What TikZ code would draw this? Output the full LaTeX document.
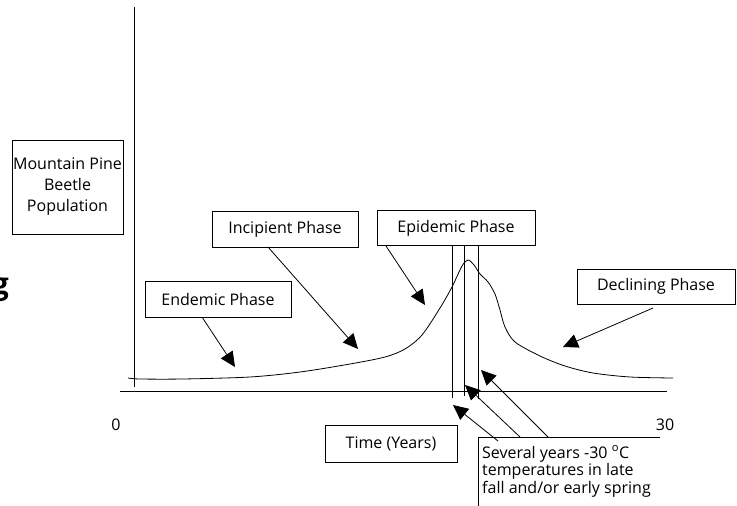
\documentclass[tikz,border=0pt]{standalone}
\usepackage{fontspec}
\setmainfont{Open Sans}
\usetikzlibrary{arrows.meta}
\begin{document}
\begin{tikzpicture}[x=1pt,y=-1pt,
  ln/.style={line width=0.8pt},
  box/.style={draw, line width=0.8pt, inner sep=0pt, font=\fontsize{16}{21}\selectfont},
  lbl/.style={inner sep=0pt, font=\fontsize{16}{18}\selectfont},
  arr/.style={line width=0.8pt, -{Triangle[length=15pt,width=14pt]}}]
\useasboundingbox (0,0) rectangle (737,506);

% axes
\coordinate (ytop) at (134,7);
\coordinate (ybot) at (134,387);
\coordinate (xl) at (120,391);
\coordinate (xr) at (667,391);
\draw[ln] (ytop) -- (ybot);
\draw[ln] (xl) -- (xr);

% curve
\draw[ln] plot[smooth, tension=0.5] coordinates {(128,378) (140,379) (183,379) (250,377) (300,372) (350,364) (385,357) (405,349) (422,335) (440,308) (452,287) (462,266) (468,260) (474,265) (480,274) (488,282) (495,294) (500,310) (505,327) (515,342) (540,356) (565,366) (593,373) (630,377) (673,378)};

% boxes
\node[box, align=center, minimum width=111pt, minimum height=94pt] (mpb) at (67.5,187) {Mountain Pine\\Beetle\\Population};
\node[box, minimum width=146pt, minimum height=36pt] (endemic) at (218,299) {Endemic Phase};
\node[box, minimum width=146pt, minimum height=36pt] (incipient) at (285,229) {Incipient Phase};
\node[box, minimum width=158pt, minimum height=35pt] (epidemic) at (456,228) {Epidemic Phase};
\node[box, minimum width=158pt, minimum height=35pt] (declining) at (656,286.5) {Declining Phase};
\node[box, minimum width=132pt, minimum height=37pt] (time) at (391,443.5) {Time (Years)};

% cut-off title letter
\node[inner sep=0pt, anchor=base east, font=\bfseries\fontsize{30}{32}\selectfont] (g) at (9,294) {g};

% axis labels
\node[lbl] (zero) at (116,425) {0};
\node[lbl] (thirty) at (665,425) {30};

% "Several years" box (open on right and bottom)
\coordinate (sevtr) at (660,437);
\coordinate (sevtl) at (478,437);
\coordinate (sevbl) at (478,506);
\draw[ln] (sevtr) -- (sevtl) -- (sevbl);
\node[lbl, anchor=base west] (sev1) at (482,458) {Several years -30 \textsuperscript{o}C};
\node[lbl, anchor=base west] (sev2) at (482,475.5) {temperatures in late};
\node[lbl, anchor=base west] (sev3) at (482,493) {fall and/or early spring};

% vertical marker lines
\coordinate (v1t) at (452,246); \coordinate (v1b) at (452,398);
\coordinate (v2t) at (464,246); \coordinate (v2b) at (464,396);
\coordinate (v3t) at (478,246); \coordinate (v3b) at (478,399);
\draw[ln] (v1t) -- (v1b);
\draw[ln] (v2t) -- (v2b);
\draw[ln] (v3t) -- (v3b);

% arrow tips
\coordinate (tEnd) at (235,367);
\coordinate (tInc) at (358,349);
\coordinate (tEpi) at (425,305);
\coordinate (tDec) at (563,347);
\coordinate (t1) at (453,405);
\coordinate (t2) at (465,385);
\coordinate (t3) at (481,370);
% arrow starts
\coordinate (sEnd) at (202,317);
\coordinate (sInc) at (268,247);
\coordinate (sEpi) at (386,246);
\coordinate (sDec) at (653,308);
\coordinate (s1) at (498,441);
\coordinate (s2) at (520,437);
\coordinate (s3) at (548,437);

\draw[arr] (sEnd) -- (tEnd);
\draw[arr] (sInc) -- (tInc);
\draw[arr] (sEpi) -- (tEpi);
\draw[arr] (sDec) -- (tDec);
\draw[arr] (s1) -- (t1);
\draw[arr] (s2) -- (t2);
\draw[arr] (s3) -- (t3);
\end{tikzpicture}
\end{document}
